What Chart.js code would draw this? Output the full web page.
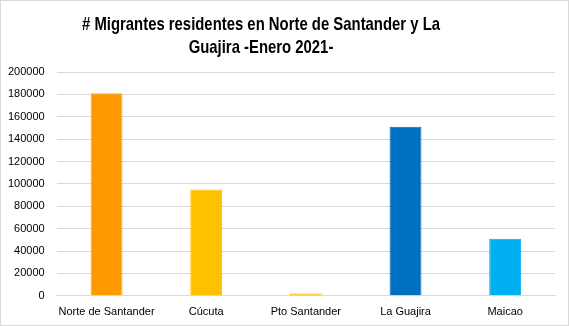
<!DOCTYPE html>
<html>
<head>
<meta charset="utf-8">
<script src="https://cdn.jsdelivr.net/npm/chart.js@4"></script>
<style>
  html, body { margin: 0; padding: 0; background: #fff; }
  #wrap { width: 567px; height: 324px; border: 1px solid #d9d9d9; position: relative; }
</style>
</head>
<body>
<div id="wrap"><canvas id="chart" width="567" height="324"></canvas></div>
<script>
const categories = ["Norte de Santander", "Cúcuta", "Pto Santander", "La Guajira", "Maicao"];
const migrantes = [181000, 95000, 2000, 151000, 51000];
const titleLines = ["# Migrantes residentes en Norte de Santander y La", "Guajira -Enero 2021-"];

const barColors = ["#ff9900", "#ffc000", "#ffc000", "#0070c0", "#00b0f0"];
const barBorders = ["#ffb300", "#ffc000", "#ffc000", "#0070c0", "#00b0f0"];

// title drawn by hand so it can sit left of centre like the spreadsheet one;
// both lines share one horizontal squeeze so the bold face stays narrow
const titlePlugin = {
  id: "sheetTitle",
  afterDraw(chart) {
    const ctx = chart.ctx;
    ctx.save();
    ctx.font = "bold 19px 'Liberation Sans', sans-serif";
    ctx.fillStyle = "#000";
    ctx.textAlign = "center";
    ctx.textBaseline = "middle";
    const squeeze = 358 / ctx.measureText(titleLines[0]).width;
    ctx.translate(260, 0);
    ctx.scale(squeeze, 1);
    titleLines.forEach((line, i) => ctx.fillText(line, 0, 23.5 + i * 23));
    ctx.restore();
  }
};

Chart.defaults.font.family = "'Liberation Sans', Arial, sans-serif";
Chart.defaults.color = "#000";

new Chart(document.getElementById("chart"), {
  type: "bar",
  data: {
    labels: categories,
    datasets: [{
      data: migrantes,
      backgroundColor: barColors,
      borderColor: barBorders,
      borderWidth: 1,
      barPercentage: 0.32,
      categoryPercentage: 1
    }]
  },
  options: {
    responsive: false,
    animation: false,
    layout: { padding: { top: 71, right: 13, left: -5, bottom: -4 } },
    plugins: {
      legend: { display: false },
      title: { display: false },
      tooltip: { enabled: false }
    },
    scales: {
      x: {
        grid: { display: false, drawTicks: false },
        border: { color: "#d9d9d9" },
        ticks: { font: { size: 11 }, padding: 10, maxRotation: 0, autoSkip: false }
      },
      y: {
        min: 0,
        max: 200000,
        grid: { color: "#d9d9d9", drawTicks: false },
        border: { display: false },
        ticks: {
          stepSize: 20000,
          font: { size: 11 },
          padding: 12,
          callback: (v) => String(v)
        }
      }
    }
  },
  plugins: [titlePlugin]
});
</script>
</body>
</html>
